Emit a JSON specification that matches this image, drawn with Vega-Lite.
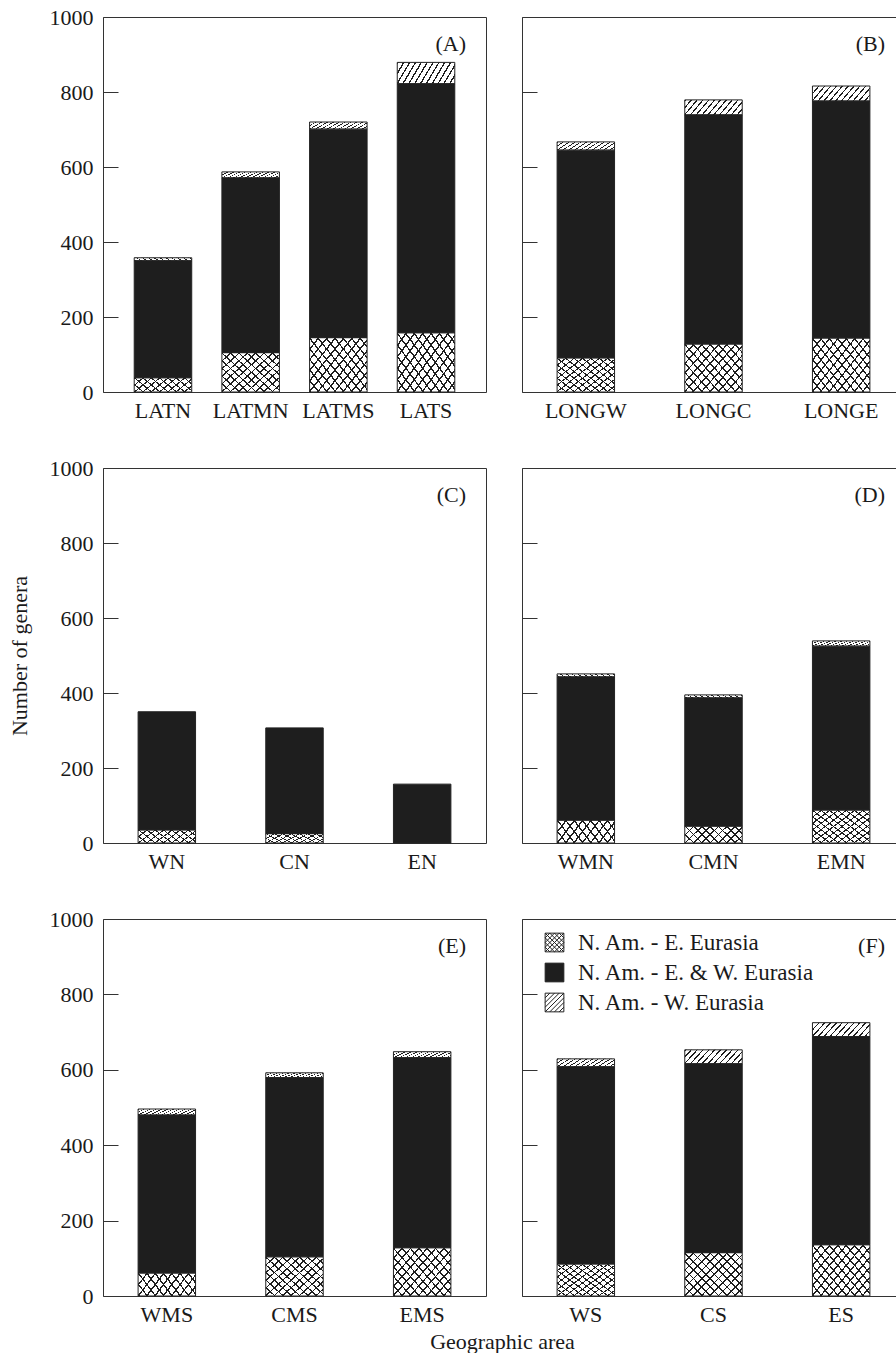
{
"$schema": "https://vega.github.io/schema/vega-lite/v6.json",
"background": "white",
"padding": {"left": 7, "top": 5, "right": 0, "bottom": 0},
"bounds": "flush",
"columns": 2,
"spacing": {"row": 76, "column": 36},
"resolve": {"scale": {"color": "independent", "x": "independent", "y": "independent"}, "legend": {"color": "independent"}},
"title": {"text": "Geographic area", "orient": "bottom", "anchor": "middle", "offset": 6, "dx": 46},
"params": [
 {"name": "gcs1", "expr": "{gradient:'linear',x1:0,y1:0,x2:1.1927,y2:0.3578,stops:[{offset:0,color:'#1e1e1e'},{offset:0.0222,color:'#1e1e1e'},{offset:0.0222,color:'#ffffff'},{offset:0.1111,color:'#ffffff'},{offset:0.1111,color:'#1e1e1e'},{offset:0.1333,color:'#1e1e1e'},{offset:0.1333,color:'#ffffff'},{offset:0.2222,color:'#ffffff'},{offset:0.2222,color:'#1e1e1e'},{offset:0.2444,color:'#1e1e1e'},{offset:0.2444,color:'#ffffff'},{offset:0.3333,color:'#ffffff'},{offset:0.3333,color:'#1e1e1e'},{offset:0.3556,color:'#1e1e1e'},{offset:0.3556,color:'#ffffff'},{offset:0.4444,color:'#ffffff'},{offset:0.4444,color:'#1e1e1e'},{offset:0.4667,color:'#1e1e1e'},{offset:0.4667,color:'#ffffff'},{offset:0.5556,color:'#ffffff'},{offset:0.5556,color:'#1e1e1e'},{offset:0.5778,color:'#1e1e1e'},{offset:0.5778,color:'#ffffff'},{offset:0.6667,color:'#ffffff'},{offset:0.6667,color:'#1e1e1e'},{offset:0.6889,color:'#1e1e1e'},{offset:0.6889,color:'#ffffff'},{offset:0.7778,color:'#ffffff'},{offset:0.7778,color:'#1e1e1e'},{offset:0.8,color:'#1e1e1e'},{offset:0.8,color:'#ffffff'},{offset:0.8889,color:'#ffffff'},{offset:0.8889,color:'#1e1e1e'},{offset:0.9111,color:'#1e1e1e'},{offset:0.9111,color:'#ffffff'},{offset:1,color:'#ffffff'}]}"},
 {"name": "gcs2", "expr": "{gradient:'linear',x1:0,y1:1,x2:1.1927,y2:0.6422,stops:[{offset:0,color:'#1e1e1e'},{offset:0.0222,color:'#1e1e1e'},{offset:0.0222,color:'rgba(255,255,255,0)'},{offset:0.1111,color:'rgba(255,255,255,0)'},{offset:0.1111,color:'#1e1e1e'},{offset:0.1333,color:'#1e1e1e'},{offset:0.1333,color:'rgba(255,255,255,0)'},{offset:0.2222,color:'rgba(255,255,255,0)'},{offset:0.2222,color:'#1e1e1e'},{offset:0.2444,color:'#1e1e1e'},{offset:0.2444,color:'rgba(255,255,255,0)'},{offset:0.3333,color:'rgba(255,255,255,0)'},{offset:0.3333,color:'#1e1e1e'},{offset:0.3556,color:'#1e1e1e'},{offset:0.3556,color:'rgba(255,255,255,0)'},{offset:0.4444,color:'rgba(255,255,255,0)'},{offset:0.4444,color:'#1e1e1e'},{offset:0.4667,color:'#1e1e1e'},{offset:0.4667,color:'rgba(255,255,255,0)'},{offset:0.5556,color:'rgba(255,255,255,0)'},{offset:0.5556,color:'#1e1e1e'},{offset:0.5778,color:'#1e1e1e'},{offset:0.5778,color:'rgba(255,255,255,0)'},{offset:0.6667,color:'rgba(255,255,255,0)'},{offset:0.6667,color:'#1e1e1e'},{offset:0.6889,color:'#1e1e1e'},{offset:0.6889,color:'rgba(255,255,255,0)'},{offset:0.7778,color:'rgba(255,255,255,0)'},{offset:0.7778,color:'#1e1e1e'},{offset:0.8,color:'#1e1e1e'},{offset:0.8,color:'rgba(255,255,255,0)'},{offset:0.8889,color:'rgba(255,255,255,0)'},{offset:0.8889,color:'#1e1e1e'},{offset:0.9111,color:'#1e1e1e'},{offset:0.9111,color:'rgba(255,255,255,0)'},{offset:1,color:'rgba(255,255,255,0)'}]}"},
 {"name": "gcl1", "expr": "{gradient:'linear',x1:0,y1:0,x2:1.12,y2:0.84,stops:[{offset:0,color:'#1e1e1e'},{offset:0.0167,color:'#1e1e1e'},{offset:0.0167,color:'#ffffff'},{offset:0.0833,color:'#ffffff'},{offset:0.0833,color:'#1e1e1e'},{offset:0.1,color:'#1e1e1e'},{offset:0.1,color:'#ffffff'},{offset:0.1667,color:'#ffffff'},{offset:0.1667,color:'#1e1e1e'},{offset:0.1833,color:'#1e1e1e'},{offset:0.1833,color:'#ffffff'},{offset:0.25,color:'#ffffff'},{offset:0.25,color:'#1e1e1e'},{offset:0.2667,color:'#1e1e1e'},{offset:0.2667,color:'#ffffff'},{offset:0.3333,color:'#ffffff'},{offset:0.3333,color:'#1e1e1e'},{offset:0.35,color:'#1e1e1e'},{offset:0.35,color:'#ffffff'},{offset:0.4167,color:'#ffffff'},{offset:0.4167,color:'#1e1e1e'},{offset:0.4333,color:'#1e1e1e'},{offset:0.4333,color:'#ffffff'},{offset:0.5,color:'#ffffff'},{offset:0.5,color:'#1e1e1e'},{offset:0.5167,color:'#1e1e1e'},{offset:0.5167,color:'#ffffff'},{offset:0.5833,color:'#ffffff'},{offset:0.5833,color:'#1e1e1e'},{offset:0.6,color:'#1e1e1e'},{offset:0.6,color:'#ffffff'},{offset:0.6667,color:'#ffffff'},{offset:0.6667,color:'#1e1e1e'},{offset:0.6833,color:'#1e1e1e'},{offset:0.6833,color:'#ffffff'},{offset:0.75,color:'#ffffff'},{offset:0.75,color:'#1e1e1e'},{offset:0.7667,color:'#1e1e1e'},{offset:0.7667,color:'#ffffff'},{offset:0.8333,color:'#ffffff'},{offset:0.8333,color:'#1e1e1e'},{offset:0.85,color:'#1e1e1e'},{offset:0.85,color:'#ffffff'},{offset:0.9167,color:'#ffffff'},{offset:0.9167,color:'#1e1e1e'},{offset:0.9333,color:'#1e1e1e'},{offset:0.9333,color:'#ffffff'},{offset:1,color:'#ffffff'}]}"},
 {"name": "gcl2", "expr": "{gradient:'linear',x1:0,y1:1,x2:1.12,y2:0.16,stops:[{offset:0,color:'#1e1e1e'},{offset:0.0167,color:'#1e1e1e'},{offset:0.0167,color:'rgba(255,255,255,0)'},{offset:0.0833,color:'rgba(255,255,255,0)'},{offset:0.0833,color:'#1e1e1e'},{offset:0.1,color:'#1e1e1e'},{offset:0.1,color:'rgba(255,255,255,0)'},{offset:0.1667,color:'rgba(255,255,255,0)'},{offset:0.1667,color:'#1e1e1e'},{offset:0.1833,color:'#1e1e1e'},{offset:0.1833,color:'rgba(255,255,255,0)'},{offset:0.25,color:'rgba(255,255,255,0)'},{offset:0.25,color:'#1e1e1e'},{offset:0.2667,color:'#1e1e1e'},{offset:0.2667,color:'rgba(255,255,255,0)'},{offset:0.3333,color:'rgba(255,255,255,0)'},{offset:0.3333,color:'#1e1e1e'},{offset:0.35,color:'#1e1e1e'},{offset:0.35,color:'rgba(255,255,255,0)'},{offset:0.4167,color:'rgba(255,255,255,0)'},{offset:0.4167,color:'#1e1e1e'},{offset:0.4333,color:'#1e1e1e'},{offset:0.4333,color:'rgba(255,255,255,0)'},{offset:0.5,color:'rgba(255,255,255,0)'},{offset:0.5,color:'#1e1e1e'},{offset:0.5167,color:'#1e1e1e'},{offset:0.5167,color:'rgba(255,255,255,0)'},{offset:0.5833,color:'rgba(255,255,255,0)'},{offset:0.5833,color:'#1e1e1e'},{offset:0.6,color:'#1e1e1e'},{offset:0.6,color:'rgba(255,255,255,0)'},{offset:0.6667,color:'rgba(255,255,255,0)'},{offset:0.6667,color:'#1e1e1e'},{offset:0.6833,color:'#1e1e1e'},{offset:0.6833,color:'rgba(255,255,255,0)'},{offset:0.75,color:'rgba(255,255,255,0)'},{offset:0.75,color:'#1e1e1e'},{offset:0.7667,color:'#1e1e1e'},{offset:0.7667,color:'rgba(255,255,255,0)'},{offset:0.8333,color:'rgba(255,255,255,0)'},{offset:0.8333,color:'#1e1e1e'},{offset:0.85,color:'#1e1e1e'},{offset:0.85,color:'rgba(255,255,255,0)'},{offset:0.9167,color:'rgba(255,255,255,0)'},{offset:0.9167,color:'#1e1e1e'},{offset:0.9333,color:'#1e1e1e'},{offset:0.9333,color:'rgba(255,255,255,0)'},{offset:1,color:'rgba(255,255,255,0)'}]}"},
 {"name": "gdg", "expr": "{gradient:'linear',x1:0,y1:0,x2:1.1637,y2:0.256,stops:[{offset:0,color:'#1e1e1e'},{offset:0.021,color:'#1e1e1e'},{offset:0.021,color:'#ffffff'},{offset:0.0833,color:'#ffffff'},{offset:0.0833,color:'#1e1e1e'},{offset:0.1043,color:'#1e1e1e'},{offset:0.1043,color:'#ffffff'},{offset:0.1667,color:'#ffffff'},{offset:0.1667,color:'#1e1e1e'},{offset:0.1877,color:'#1e1e1e'},{offset:0.1877,color:'#ffffff'},{offset:0.25,color:'#ffffff'},{offset:0.25,color:'#1e1e1e'},{offset:0.271,color:'#1e1e1e'},{offset:0.271,color:'#ffffff'},{offset:0.3333,color:'#ffffff'},{offset:0.3333,color:'#1e1e1e'},{offset:0.3543,color:'#1e1e1e'},{offset:0.3543,color:'#ffffff'},{offset:0.4167,color:'#ffffff'},{offset:0.4167,color:'#1e1e1e'},{offset:0.4377,color:'#1e1e1e'},{offset:0.4377,color:'#ffffff'},{offset:0.5,color:'#ffffff'},{offset:0.5,color:'#1e1e1e'},{offset:0.521,color:'#1e1e1e'},{offset:0.521,color:'#ffffff'},{offset:0.5833,color:'#ffffff'},{offset:0.5833,color:'#1e1e1e'},{offset:0.6043,color:'#1e1e1e'},{offset:0.6043,color:'#ffffff'},{offset:0.6667,color:'#ffffff'},{offset:0.6667,color:'#1e1e1e'},{offset:0.6877,color:'#1e1e1e'},{offset:0.6877,color:'#ffffff'},{offset:0.75,color:'#ffffff'},{offset:0.75,color:'#1e1e1e'},{offset:0.771,color:'#1e1e1e'},{offset:0.771,color:'#ffffff'},{offset:0.8333,color:'#ffffff'},{offset:0.8333,color:'#1e1e1e'},{offset:0.8543,color:'#1e1e1e'},{offset:0.8543,color:'#ffffff'},{offset:0.9167,color:'#ffffff'},{offset:0.9167,color:'#1e1e1e'},{offset:0.9377,color:'#1e1e1e'},{offset:0.9377,color:'#ffffff'},{offset:1,color:'#ffffff'}]}"}
],
"config": {
 "font": "Liberation Serif",
 "view": {"stroke": "#333333", "strokeWidth": 1},
 "axis": {"labelFont": "Liberation Serif", "labelFontSize": 22, "labelColor": "#1a1a1a", "titleFont": "Liberation Serif", "titleFontSize": 22, "titleFontWeight": "normal", "titleColor": "#1a1a1a", "grid": false, "domain": false},
 "title": {"font": "Liberation Serif", "fontSize": 22, "fontWeight": "normal", "color": "#1a1a1a"}
},
"datasets": {"d": [
 {"panel": "A", "area": "LATN", "type": "N. Am. - E. Eurasia", "ord": 1, "value": 38},
 {"panel": "A", "area": "LATN", "type": "N. Am. - E. & W. Eurasia", "ord": 2, "value": 312},
 {"panel": "A", "area": "LATN", "type": "N. Am. - W. Eurasia", "ord": 3, "value": 8},
 {"panel": "A", "area": "LATMN", "type": "N. Am. - E. Eurasia", "ord": 1, "value": 105},
 {"panel": "A", "area": "LATMN", "type": "N. Am. - E. & W. Eurasia", "ord": 2, "value": 466},
 {"panel": "A", "area": "LATMN", "type": "N. Am. - W. Eurasia", "ord": 3, "value": 16},
 {"panel": "A", "area": "LATMS", "type": "N. Am. - E. Eurasia", "ord": 1, "value": 145},
 {"panel": "A", "area": "LATMS", "type": "N. Am. - E. & W. Eurasia", "ord": 2, "value": 556},
 {"panel": "A", "area": "LATMS", "type": "N. Am. - W. Eurasia", "ord": 3, "value": 19},
 {"panel": "A", "area": "LATS", "type": "N. Am. - E. Eurasia", "ord": 1, "value": 158},
 {"panel": "A", "area": "LATS", "type": "N. Am. - E. & W. Eurasia", "ord": 2, "value": 664},
 {"panel": "A", "area": "LATS", "type": "N. Am. - W. Eurasia", "ord": 3, "value": 57},
 {"panel": "B", "area": "LONGW", "type": "N. Am. - E. Eurasia", "ord": 1, "value": 91},
 {"panel": "B", "area": "LONGW", "type": "N. Am. - E. & W. Eurasia", "ord": 2, "value": 554},
 {"panel": "B", "area": "LONGW", "type": "N. Am. - W. Eurasia", "ord": 3, "value": 22},
 {"panel": "B", "area": "LONGC", "type": "N. Am. - E. Eurasia", "ord": 1, "value": 128},
 {"panel": "B", "area": "LONGC", "type": "N. Am. - E. & W. Eurasia", "ord": 2, "value": 611},
 {"panel": "B", "area": "LONGC", "type": "N. Am. - W. Eurasia", "ord": 3, "value": 40},
 {"panel": "B", "area": "LONGE", "type": "N. Am. - E. Eurasia", "ord": 1, "value": 144},
 {"panel": "B", "area": "LONGE", "type": "N. Am. - E. & W. Eurasia", "ord": 2, "value": 632},
 {"panel": "B", "area": "LONGE", "type": "N. Am. - W. Eurasia", "ord": 3, "value": 40},
 {"panel": "C", "area": "WN", "type": "N. Am. - E. Eurasia", "ord": 1, "value": 35},
 {"panel": "C", "area": "WN", "type": "N. Am. - E. & W. Eurasia", "ord": 2, "value": 315},
 {"panel": "C", "area": "CN", "type": "N. Am. - E. Eurasia", "ord": 1, "value": 25},
 {"panel": "C", "area": "CN", "type": "N. Am. - E. & W. Eurasia", "ord": 2, "value": 282},
 {"panel": "C", "area": "EN", "type": "N. Am. - E. & W. Eurasia", "ord": 2, "value": 157},
 {"panel": "D", "area": "WMN", "type": "N. Am. - E. Eurasia", "ord": 1, "value": 61},
 {"panel": "D", "area": "WMN", "type": "N. Am. - E. & W. Eurasia", "ord": 2, "value": 382},
 {"panel": "D", "area": "WMN", "type": "N. Am. - W. Eurasia", "ord": 3, "value": 8},
 {"panel": "D", "area": "CMN", "type": "N. Am. - E. Eurasia", "ord": 1, "value": 45},
 {"panel": "D", "area": "CMN", "type": "N. Am. - E. & W. Eurasia", "ord": 2, "value": 342},
 {"panel": "D", "area": "CMN", "type": "N. Am. - W. Eurasia", "ord": 3, "value": 8},
 {"panel": "D", "area": "EMN", "type": "N. Am. - E. Eurasia", "ord": 1, "value": 88},
 {"panel": "D", "area": "EMN", "type": "N. Am. - E. & W. Eurasia", "ord": 2, "value": 437},
 {"panel": "D", "area": "EMN", "type": "N. Am. - W. Eurasia", "ord": 3, "value": 14},
 {"panel": "E", "area": "WMS", "type": "N. Am. - E. Eurasia", "ord": 1, "value": 61},
 {"panel": "E", "area": "WMS", "type": "N. Am. - E. & W. Eurasia", "ord": 2, "value": 419},
 {"panel": "E", "area": "WMS", "type": "N. Am. - W. Eurasia", "ord": 3, "value": 16},
 {"panel": "E", "area": "CMS", "type": "N. Am. - E. Eurasia", "ord": 1, "value": 104},
 {"panel": "E", "area": "CMS", "type": "N. Am. - E. & W. Eurasia", "ord": 2, "value": 475},
 {"panel": "E", "area": "CMS", "type": "N. Am. - W. Eurasia", "ord": 3, "value": 13},
 {"panel": "E", "area": "EMS", "type": "N. Am. - E. Eurasia", "ord": 1, "value": 128},
 {"panel": "E", "area": "EMS", "type": "N. Am. - E. & W. Eurasia", "ord": 2, "value": 504},
 {"panel": "E", "area": "EMS", "type": "N. Am. - W. Eurasia", "ord": 3, "value": 16},
 {"panel": "F", "area": "WS", "type": "N. Am. - E. Eurasia", "ord": 1, "value": 85},
 {"panel": "F", "area": "WS", "type": "N. Am. - E. & W. Eurasia", "ord": 2, "value": 523},
 {"panel": "F", "area": "WS", "type": "N. Am. - W. Eurasia", "ord": 3, "value": 21},
 {"panel": "F", "area": "CS", "type": "N. Am. - E. Eurasia", "ord": 1, "value": 115},
 {"panel": "F", "area": "CS", "type": "N. Am. - E. & W. Eurasia", "ord": 2, "value": 501},
 {"panel": "F", "area": "CS", "type": "N. Am. - W. Eurasia", "ord": 3, "value": 37},
 {"panel": "F", "area": "ES", "type": "N. Am. - E. Eurasia", "ord": 1, "value": 136},
 {"panel": "F", "area": "ES", "type": "N. Am. - E. & W. Eurasia", "ord": 2, "value": 552},
 {"panel": "F", "area": "ES", "type": "N. Am. - W. Eurasia", "ord": 3, "value": 37}
]},
"concat": [
 {
  "width": 383, "height": 375,
  "data": {"name": "d"},
  "transform": [{"filter": "datum.panel === 'A'"}, {"stack": "value", "groupby": ["area"], "sort": [{"field": "ord", "order": "ascending"}], "as": ["lo", "hi"]}],
  "title": {"text": "(A)", "anchor": "end", "frame": "group", "dx": -20, "offset": -67, "baseline": "alphabetic"},
  "encoding": {
   "x": {"field": "area", "type": "nominal", "sort": ["LATN", "LATMN", "LATMS", "LATS"], "scale": {"paddingInner": 0.344, "paddingOuter": 0.356}, "axis": {"title": null, "ticks": false, "labelAngle": 0, "labelPadding": 8}},
   "y": {"field": "lo", "type": "quantitative", "scale": {"domain": [0, 1000], "nice": false}, "axis": {"title": null, "format": "d", "values": [0, 200, 400, 600, 800, 1000], "tickSize": -15, "tickColor": "#333333", "labelPadding": 25}},
   "y2": {"field": "hi"}
  },
  "layer": [
   {"mark": {"type": "bar"}, "encoding": {"color": {"field": "type", "type": "nominal", "scale": {"domain": ["N. Am. - E. Eurasia", "N. Am. - E. & W. Eurasia", "N. Am. - W. Eurasia"], "range": ["#ffffff", "#1e1e1e", "#ffffff"]}, "legend": null}}},
   {"transform": [{"filter": "datum.ord === 1 && datum.value < 70"}], "mark": {"type": "bar", "color": {"expr": "gcs1"}}},
   {"transform": [{"filter": "datum.ord === 1 && datum.value < 70"}], "mark": {"type": "bar", "color": {"expr": "gcs2"}}},
   {"transform": [{"filter": "datum.ord === 1 && datum.value >= 70"}], "mark": {"type": "bar", "color": {"expr": "gcl1"}}},
   {"transform": [{"filter": "datum.ord === 1 && datum.value >= 70"}], "mark": {"type": "bar", "color": {"expr": "gcl2"}}},
   {"transform": [{"filter": "datum.ord === 3"}], "mark": {"type": "bar", "color": {"expr": "gdg"}}},
   {"mark": {"type": "bar", "fillOpacity": 0, "stroke": "#222222", "strokeWidth": 1}}
  ]
 },
 {
  "width": 376, "height": 375,
  "data": {"name": "d"},
  "transform": [{"filter": "datum.panel === 'B'"}, {"stack": "value", "groupby": ["area"], "sort": [{"field": "ord", "order": "ascending"}], "as": ["lo", "hi"]}],
  "title": {"text": "(B)", "anchor": "end", "frame": "group", "dx": -13, "offset": -56, "baseline": "alphabetic"},
  "encoding": {
   "x": {"field": "area", "type": "nominal", "sort": ["LONGW", "LONGC", "LONGE"], "scale": {"paddingInner": 0.55, "paddingOuter": 0.275, "range": [0, 383]}, "axis": {"title": null, "ticks": false, "labelAngle": 0, "labelPadding": 8}},
   "y": {"field": "lo", "type": "quantitative", "scale": {"domain": [0, 1000], "nice": false}, "axis": {"title": null, "values": [0, 200, 400, 600, 800, 1000], "tickSize": -15, "tickColor": "#333333", "labels": false}},
   "y2": {"field": "hi"}
  },
  "layer": [
   {"mark": {"type": "bar"}, "encoding": {"color": {"field": "type", "type": "nominal", "scale": {"domain": ["N. Am. - E. Eurasia", "N. Am. - E. & W. Eurasia", "N. Am. - W. Eurasia"], "range": ["#ffffff", "#1e1e1e", "#ffffff"]}, "legend": null}}},
   {"transform": [{"filter": "datum.ord === 1 && datum.value < 70"}], "mark": {"type": "bar", "color": {"expr": "gcs1"}}},
   {"transform": [{"filter": "datum.ord === 1 && datum.value < 70"}], "mark": {"type": "bar", "color": {"expr": "gcs2"}}},
   {"transform": [{"filter": "datum.ord === 1 && datum.value >= 70"}], "mark": {"type": "bar", "color": {"expr": "gcl1"}}},
   {"transform": [{"filter": "datum.ord === 1 && datum.value >= 70"}], "mark": {"type": "bar", "color": {"expr": "gcl2"}}},
   {"transform": [{"filter": "datum.ord === 3"}], "mark": {"type": "bar", "color": {"expr": "gdg"}}},
   {"mark": {"type": "bar", "fillOpacity": 0, "stroke": "#222222", "strokeWidth": 1}}
  ]
 },
 {
  "width": 383, "height": 375,
  "data": {"name": "d"},
  "transform": [{"filter": "datum.panel === 'C'"}, {"stack": "value", "groupby": ["area"], "sort": [{"field": "ord", "order": "ascending"}], "as": ["lo", "hi"]}],
  "title": {"text": "(C)", "anchor": "end", "frame": "group", "dx": -20, "offset": -67, "baseline": "alphabetic"},
  "encoding": {
   "x": {"field": "area", "type": "nominal", "sort": ["WN", "CN", "EN"], "scale": {"paddingInner": 0.55, "paddingOuter": 0.275}, "axis": {"title": null, "ticks": false, "labelAngle": 0, "labelPadding": 8}},
   "y": {"field": "lo", "type": "quantitative", "scale": {"domain": [0, 1000], "nice": false}, "axis": {"title": "Number of genera", "titlePadding": 18, "format": "d", "values": [0, 200, 400, 600, 800, 1000], "tickSize": -15, "tickColor": "#333333", "labelPadding": 25}},
   "y2": {"field": "hi"}
  },
  "layer": [
   {"mark": {"type": "bar"}, "encoding": {"color": {"field": "type", "type": "nominal", "scale": {"domain": ["N. Am. - E. Eurasia", "N. Am. - E. & W. Eurasia", "N. Am. - W. Eurasia"], "range": ["#ffffff", "#1e1e1e", "#ffffff"]}, "legend": null}}},
   {"transform": [{"filter": "datum.ord === 1 && datum.value < 70"}], "mark": {"type": "bar", "color": {"expr": "gcs1"}}},
   {"transform": [{"filter": "datum.ord === 1 && datum.value < 70"}], "mark": {"type": "bar", "color": {"expr": "gcs2"}}},
   {"transform": [{"filter": "datum.ord === 1 && datum.value >= 70"}], "mark": {"type": "bar", "color": {"expr": "gcl1"}}},
   {"transform": [{"filter": "datum.ord === 1 && datum.value >= 70"}], "mark": {"type": "bar", "color": {"expr": "gcl2"}}},
   {"transform": [{"filter": "datum.ord === 3"}], "mark": {"type": "bar", "color": {"expr": "gdg"}}},
   {"mark": {"type": "bar", "fillOpacity": 0, "stroke": "#222222", "strokeWidth": 1}}
  ]
 },
 {
  "width": 376, "height": 375,
  "data": {"name": "d"},
  "transform": [{"filter": "datum.panel === 'D'"}, {"stack": "value", "groupby": ["area"], "sort": [{"field": "ord", "order": "ascending"}], "as": ["lo", "hi"]}],
  "title": {"text": "(D)", "anchor": "end", "frame": "group", "dx": -13, "offset": -56, "baseline": "alphabetic"},
  "encoding": {
   "x": {"field": "area", "type": "nominal", "sort": ["WMN", "CMN", "EMN"], "scale": {"paddingInner": 0.55, "paddingOuter": 0.275, "range": [0, 383]}, "axis": {"title": null, "ticks": false, "labelAngle": 0, "labelPadding": 8}},
   "y": {"field": "lo", "type": "quantitative", "scale": {"domain": [0, 1000], "nice": false}, "axis": {"title": null, "values": [0, 200, 400, 600, 800, 1000], "tickSize": -15, "tickColor": "#333333", "labels": false}},
   "y2": {"field": "hi"}
  },
  "layer": [
   {"mark": {"type": "bar"}, "encoding": {"color": {"field": "type", "type": "nominal", "scale": {"domain": ["N. Am. - E. Eurasia", "N. Am. - E. & W. Eurasia", "N. Am. - W. Eurasia"], "range": ["#ffffff", "#1e1e1e", "#ffffff"]}, "legend": null}}},
   {"transform": [{"filter": "datum.ord === 1 && datum.value < 70"}], "mark": {"type": "bar", "color": {"expr": "gcs1"}}},
   {"transform": [{"filter": "datum.ord === 1 && datum.value < 70"}], "mark": {"type": "bar", "color": {"expr": "gcs2"}}},
   {"transform": [{"filter": "datum.ord === 1 && datum.value >= 70"}], "mark": {"type": "bar", "color": {"expr": "gcl1"}}},
   {"transform": [{"filter": "datum.ord === 1 && datum.value >= 70"}], "mark": {"type": "bar", "color": {"expr": "gcl2"}}},
   {"transform": [{"filter": "datum.ord === 3"}], "mark": {"type": "bar", "color": {"expr": "gdg"}}},
   {"mark": {"type": "bar", "fillOpacity": 0, "stroke": "#222222", "strokeWidth": 1}}
  ]
 },
 {
  "width": 383, "height": 377,
  "data": {"name": "d"},
  "transform": [{"filter": "datum.panel === 'E'"}, {"stack": "value", "groupby": ["area"], "sort": [{"field": "ord", "order": "ascending"}], "as": ["lo", "hi"]}],
  "title": {"text": "(E)", "anchor": "end", "frame": "group", "dx": -20, "offset": -67, "baseline": "alphabetic"},
  "encoding": {
   "x": {"field": "area", "type": "nominal", "sort": ["WMS", "CMS", "EMS"], "scale": {"paddingInner": 0.55, "paddingOuter": 0.275}, "axis": {"title": null, "ticks": false, "labelAngle": 0, "labelPadding": 8}},
   "y": {"field": "lo", "type": "quantitative", "scale": {"domain": [0, 1000], "nice": false}, "axis": {"title": null, "format": "d", "values": [0, 200, 400, 600, 800, 1000], "tickSize": -15, "tickColor": "#333333", "labelPadding": 25}},
   "y2": {"field": "hi"}
  },
  "layer": [
   {"mark": {"type": "bar"}, "encoding": {"color": {"field": "type", "type": "nominal", "scale": {"domain": ["N. Am. - E. Eurasia", "N. Am. - E. & W. Eurasia", "N. Am. - W. Eurasia"], "range": ["#ffffff", "#1e1e1e", "#ffffff"]}, "legend": null}}},
   {"transform": [{"filter": "datum.ord === 1 && datum.value < 70"}], "mark": {"type": "bar", "color": {"expr": "gcs1"}}},
   {"transform": [{"filter": "datum.ord === 1 && datum.value < 70"}], "mark": {"type": "bar", "color": {"expr": "gcs2"}}},
   {"transform": [{"filter": "datum.ord === 1 && datum.value >= 70"}], "mark": {"type": "bar", "color": {"expr": "gcl1"}}},
   {"transform": [{"filter": "datum.ord === 1 && datum.value >= 70"}], "mark": {"type": "bar", "color": {"expr": "gcl2"}}},
   {"transform": [{"filter": "datum.ord === 3"}], "mark": {"type": "bar", "color": {"expr": "gdg"}}},
   {"mark": {"type": "bar", "fillOpacity": 0, "stroke": "#222222", "strokeWidth": 1}}
  ]
 },
 {
  "width": 376, "height": 377,
  "data": {"name": "d"},
  "transform": [{"filter": "datum.panel === 'F'"}, {"stack": "value", "groupby": ["area"], "sort": [{"field": "ord", "order": "ascending"}], "as": ["lo", "hi"]}],
  "title": {"text": "(F)", "anchor": "end", "frame": "group", "dx": -13, "offset": -56, "baseline": "alphabetic"},
  "encoding": {
   "x": {"field": "area", "type": "nominal", "sort": ["WS", "CS", "ES"], "scale": {"paddingInner": 0.55, "paddingOuter": 0.275, "range": [0, 383]}, "axis": {"title": null, "ticks": false, "labelAngle": 0, "labelPadding": 8}},
   "y": {"field": "lo", "type": "quantitative", "scale": {"domain": [0, 1000], "nice": false}, "axis": {"title": null, "values": [0, 200, 400, 600, 800, 1000], "tickSize": -15, "tickColor": "#333333", "labels": false}},
   "y2": {"field": "hi"}
  },
  "layer": [
   {"mark": {"type": "bar"}, "encoding": {"color": {"field": "type", "type": "nominal", "scale": {"domain": ["N. Am. - E. Eurasia", "N. Am. - E. & W. Eurasia", "N. Am. - W. Eurasia"], "range": ["#ffffff", "#1e1e1e", "#ffffff"]},
     "legend": {"orient": "none", "legendX": 21, "legendY": 12, "title": null, "padding": 0, "symbolSize": 350, "symbolStrokeColor": "#222222", "symbolStrokeWidth": 1, "symbolOpacity": 1, "labelFontSize": 23, "labelFont": "Liberation Serif", "labelColor": "#1a1a1a", "labelOffset": 12, "rowPadding": 6, "labelLimit": 400,
      "encode": {"symbols": {"update": {"shape": [
       {"test": "datum.value === 'N. Am. - E. Eurasia'", "value": "M-1,-1H1V1H-1Z M-1,-0.5L-0.5,-1 M-1,0L0,-1 M-1,0.5L0.5,-1 M-1,1L1,-1 M-0.5,1L1,-0.5 M0,1L1,0 M0.5,1L1,0.5 M0.5,-1L1,-0.5 M0,-1L1,0 M-0.5,-1L1,0.5 M-1,-1L1,1 M-1,-0.5L0.5,1 M-1,0L0,1 M-1,0.5L-0.5,1"},
       {"test": "datum.value === 'N. Am. - W. Eurasia'", "value": "M-1,-1H1V1H-1Z M-1,-0.5L-0.5,-1 M-1,0L0,-1 M-1,0.5L0.5,-1 M-1,1L1,-1 M-0.5,1L1,-0.5 M0,1L1,0 M0.5,1L1,0.5"},
       {"value": "square"}]}}}}}}},
   {"transform": [{"filter": "datum.ord === 1 && datum.value < 70"}], "mark": {"type": "bar", "color": {"expr": "gcs1"}}},
   {"transform": [{"filter": "datum.ord === 1 && datum.value < 70"}], "mark": {"type": "bar", "color": {"expr": "gcs2"}}},
   {"transform": [{"filter": "datum.ord === 1 && datum.value >= 70"}], "mark": {"type": "bar", "color": {"expr": "gcl1"}}},
   {"transform": [{"filter": "datum.ord === 1 && datum.value >= 70"}], "mark": {"type": "bar", "color": {"expr": "gcl2"}}},
   {"transform": [{"filter": "datum.ord === 3"}], "mark": {"type": "bar", "color": {"expr": "gdg"}}},
   {"mark": {"type": "bar", "fillOpacity": 0, "stroke": "#222222", "strokeWidth": 1}}
  ]
 }
]
}
